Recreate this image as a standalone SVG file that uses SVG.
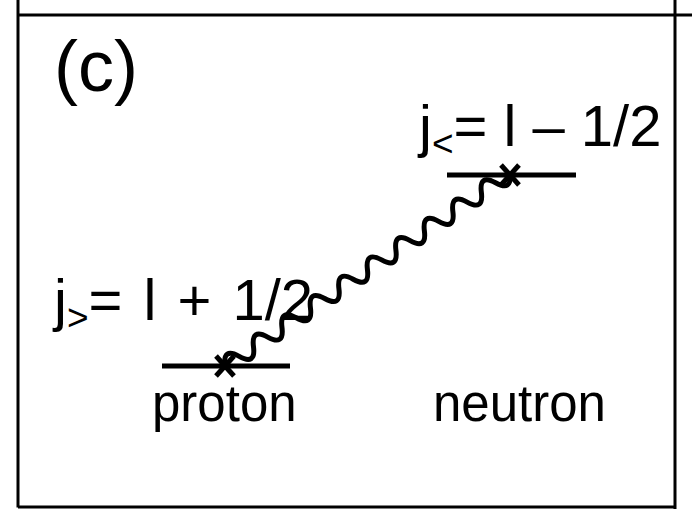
<svg xmlns="http://www.w3.org/2000/svg" width="692" height="509" viewBox="0 0 692 509">
<style>
text{font-family:"Liberation Sans",Arial,sans-serif;fill:#000}
.lbl{font-size:51px}
.big{font-size:58px}
.sub{font-size:37px}
.lvl{stroke:#000;stroke-width:5;fill:none}
.frame{stroke:#000;stroke-width:3;fill:none}
</style>
<rect width="692" height="509" fill="#fff"/>
<g id="frame">
<line class="frame" x1="18" y1="0" x2="18" y2="507.5"/>
<line class="frame" x1="18" y1="15" x2="692" y2="15"/>
<line class="frame" x1="675" y1="0" x2="675" y2="509"/>
<line class="frame" x1="18" y1="507" x2="675" y2="507"/>
</g>
<text id="panel" x="54" y="91" style="font-size:72px">(c)</text>
<g id="neutron-level">
<line class="lvl" x1="447" y1="175" x2="576" y2="175"/>
<path class="lvl" d="M501,165 L519,185 M519,165 L501,185" stroke-width="4"/>
<text class="big" x="419" y="146">j<tspan class="sub" dy="10">&lt;</tspan><tspan dy="-10">= l – 1/2</tspan></text>
</g>
<g id="proton-level">
<line class="lvl" x1="162" y1="366" x2="290" y2="366"/>
<path class="lvl" d="M216,356 L234,376 M234,356 L216,376" stroke-width="4"/>
<text class="big" x="54" y="320" word-spacing="5">j<tspan class="sub" dy="10">&gt;</tspan><tspan dy="-10">= l + 1/2</tspan></text>
</g>
<text id="proton" class="lbl" x="152" y="421">proton</text>
<text id="neutron" class="lbl" x="433" y="421">neutron</text>
<g id="connectors">
<path class="lvl" stroke-width="4" transform="translate(225,366) rotate(-34.1)" d="M0,0 q8.6,-17 17.2,0 t17.2,0 t17.2,0 t17.2,0 t17.2,0 t17.2,0 t17.2,0 t17.2,0 t17.2,0 t17.2,0 t17.2,0 t17.2,0 t17.2,0 t17.2,0 t17.2,0 t17.2,0 t17.2,0 t17.2,0 t17.2,0 t17.2,0"/>
</g>
</svg>
